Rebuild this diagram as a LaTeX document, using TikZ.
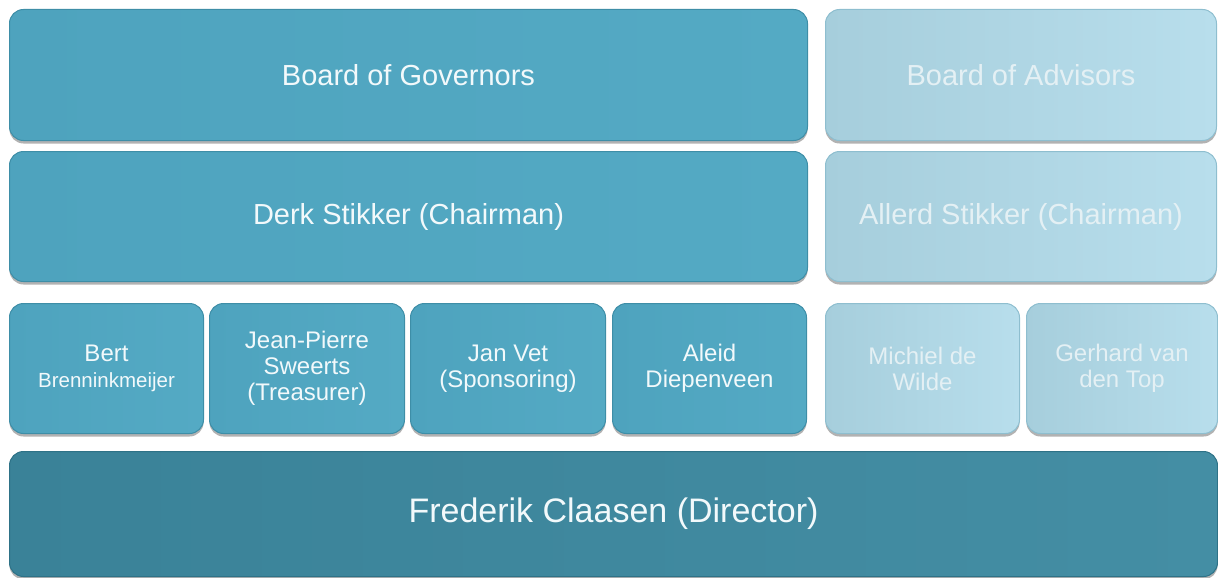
\documentclass[tikz,border=0pt]{standalone}
\usepackage{fontspec}
\setmainfont{Liberation Sans}
\usetikzlibrary{shadows}
\definecolor{govL}{RGB}{78,163,190}
\definecolor{govR}{RGB}{84,170,196}
\definecolor{govE}{RGB}{62,142,167}
\definecolor{advL}{RGB}{166,206,220}
\definecolor{advR}{RGB}{184,222,236}
\definecolor{advE}{RGB}{142,190,207}
\definecolor{advT}{RGB}{228,240,244}
\definecolor{dirL}{RGB}{58,130,152}
\definecolor{dirR}{RGB}{68,142,164}
\definecolor{dirE}{RGB}{46,114,135}
\definecolor{govT}{RGB}{242,249,251}
\tikzset{
  box/.style={rounded corners=14pt, anchor=north west, inner sep=0pt, align=center,
    line width=1pt, drop shadow={shadow xshift=0pt, shadow yshift=-3pt, opacity=0.3, fill=black}},
  govbox/.style={box, draw=govE, left color=govL, right color=govR, text=govT},
  advbox/.style={box, draw=advE, left color=advL, right color=advR, text=advT},
  dirbox/.style={box, draw=dirE, left color=dirL, right color=dirR, text=govT},
  big/.style={font=\fontsize{29}{32}\selectfont},
  small/.style={font=\fontsize{24}{26}\selectfont},
}
\begin{document}
\begin{tikzpicture}[x=1pt,y=-1pt]
\useasboundingbox (0,0) rectangle (1218,578);
\node[govbox, big, minimum width=798pt, minimum height=131pt] (gov) at (9,9) {Board of Governors};
\node[advbox, big, minimum width=391pt, minimum height=131pt] (adv) at (825,9) {Board of Advisors};
\node[govbox, big, minimum width=798pt, minimum height=130pt] (derk) at (9,151) {Derk Stikker (Chairman)};
\node[advbox, big, minimum width=391pt, minimum height=130pt] (allerd) at (825,151) {Allerd Stikker (Chairman)};
\node[govbox, small, minimum width=194pt, minimum height=130pt] (bert) at (9,303) {Bert\\{\fontsize{20.5}{24}\selectfont Brenninkmeijer}};
\node[govbox, small, minimum width=195pt, minimum height=130pt] (jp) at (209,303) {Jean-Pierre\\Sweerts\\(Treasurer)};
\node[govbox, small, minimum width=195pt, minimum height=130pt] (jan) at (410,303) {Jan Vet\\(Sponsoring)};
\node[govbox, small, minimum width=194pt, minimum height=130pt] (aleid) at (612,303) {Aleid\\Diepenveen};
\node[advbox, small, minimum width=194pt, minimum height=130pt] (michiel) at (825,303) {Michiel de\\Wilde};
\node[advbox, small, minimum width=191pt, minimum height=130pt] (gerhard) at (1026,303) {Gerhard van\\den Top};
\node[dirbox, font=\fontsize{34}{37}\selectfont, minimum width=1208pt, minimum height=125pt] (dir) at (9,451) {Frederik Claasen (Director)};
\end{tikzpicture}
\end{document}
